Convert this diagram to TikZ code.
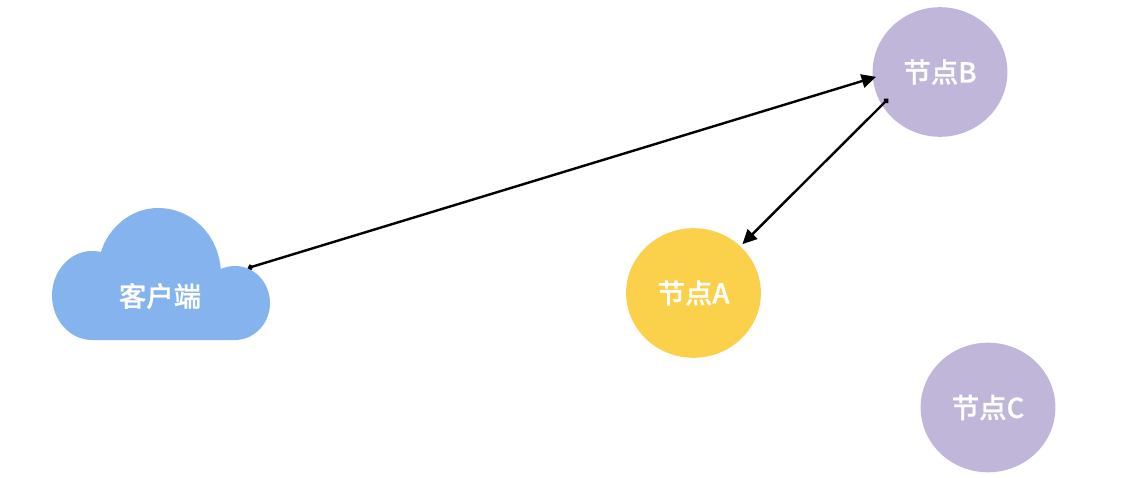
\documentclass[tikz,border=0pt]{standalone}
\usepackage{fontspec}
\setmainfont[FakeBold=0.7]{Noto Sans CJK SC Medium}
\usetikzlibrary{arrows.meta,calc,shapes.geometric}

\definecolor{cloudblue}{HTML}{85B3EE}
\definecolor{nodeyellow}{HTML}{FBD14B}
\definecolor{nodepurple}{HTML}{C0B6DA}

\tikzset{
  nodelabel/.style={text=white, font=\fontsize{19.5}{19.5}\selectfont, inner sep=0pt},
  servernode/.style={ellipse, nodelabel, minimum width=33.7mm, minimum height=32.4mm},
  link/.style={line width=0.6mm, {Circle[length=1.3mm]}-{Triangle[length=3.6mm,width=3.4mm]}}
}

\begin{document}
\begin{tikzpicture}[x=0.25mm,y=-0.25mm, line cap=round, line join=round]
  \useasboundingbox (0,0) rectangle (1142,478);
  % client cloud outline
  \fill[cloudblue] (92,340) -- (235,340)
    .. controls (254.3,340) and (270,323.4) .. (270,303)
    .. controls (270,282.6) and (254.3,266) .. (235,266)
    .. controls (230,266) and (225,267) .. (220.7,269)
    .. controls (218,234) and (191,208) .. (158,208)
    .. controls (131,208) and (108,228) .. (101,252)
    .. controls (98,251.3) and (95,251) .. (92,251)
    .. controls (70,251) and (52,271) .. (52,295.5)
    .. controls (52,320) and (70,340) .. (92,340) -- cycle;
  \node[nodelabel] (client) at (160,296) {客户端};
  % server circles
  \node[servernode, fill=nodeyellow] (nodeA) at (693.5,293) {节点A};
  \node[servernode, fill=nodepurple] (nodeB) at (940,72) {\raisebox{-2.5pt}{节点B}};
  \node[servernode, fill=nodepurple] (nodeC) at (988,407.5) {\raisebox{-1.5pt}{节点C}};
  % free ends of the two requests
  \coordinate (clientport) at (248,268);
  \coordinate (nodeBport) at (888,99);
  \draw[link, shorten >=-0.9mm] (clientport) -- (nodeB.185);
  \draw[link, shorten >=0.7mm] (nodeBport) -- (nodeA.45);
\end{tikzpicture}
\end{document}
